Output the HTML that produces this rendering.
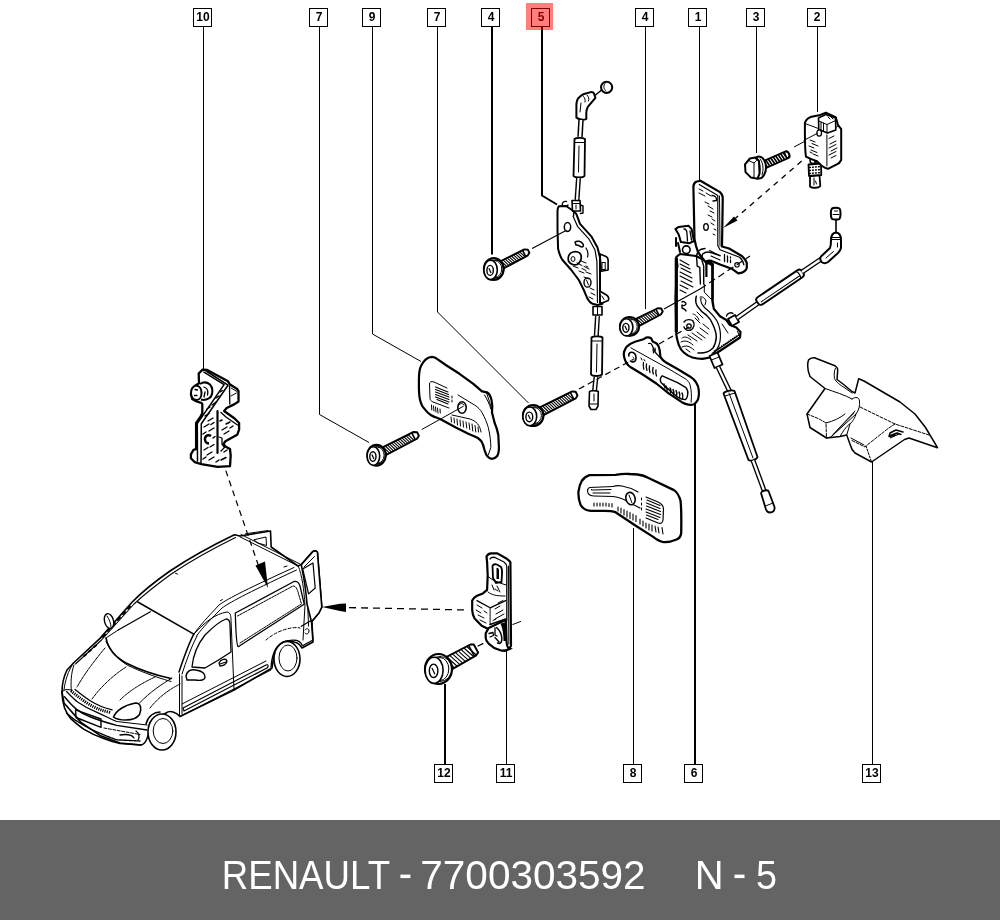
<!DOCTYPE html>
<html><head><meta charset="utf-8">
<style>
html,body{margin:0;padding:0;background:#fff;width:1000px;height:920px;overflow:hidden}
svg{display:block;will-change:transform}
.lb rect{fill:#fff;stroke:#000;stroke-width:1}
.lb text{font-family:"Liberation Sans",sans-serif;font-weight:bold;font-size:12px;fill:#000;text-anchor:middle}
.ld{stroke:#000;stroke-width:1;fill:none}
.ld2{stroke:#000;stroke-width:2;fill:none}
.o{fill:#fff;stroke:#000;stroke-width:2;stroke-linejoin:round;stroke-linecap:round}
.t{fill:none;stroke:#000;stroke-width:1;stroke-linecap:round;stroke-linejoin:round}
.t2{fill:none;stroke:#000;stroke-width:1.5;stroke-linecap:round;stroke-linejoin:round}
.d{fill:none;stroke:#000;stroke-width:1.2;stroke-dasharray:6 4}
.w{fill:#fff;stroke:#000;stroke-width:1}
</style></head>
<body>
<svg width="1000" height="920" viewBox="0 0 1000 920">
<rect x="0" y="0" width="1000" height="920" fill="#fff"/>

<!-- LEADER LINES -->
<g id="leaders">
<path class="ld" d="M203.5,27 V371"/>
<path class="ld" d="M319.5,27 V414.5 L369,442.5"/>
<path class="ld" d="M372.5,27 V334 L421,361.5"/>
<path class="ld" d="M437.5,27 V312 L528.5,403"/>
<path class="ld2" d="M492,27 V254.5"/>
<path class="ld2" d="M542,27 V195.5 L557,204.5"/>
<path class="ld" d="M645.5,27 V309"/>
<path class="ld" d="M699.5,27 V182"/>
<path class="ld" d="M756.5,27 V153"/>
<path class="ld" d="M817.5,27 V112"/>
<path class="ld2" d="M445,684 V764"/>
<path class="ld" d="M506.5,651 V764"/>
<path class="ld" d="M633.5,528 V764"/>
<path class="ld2" d="M695,404 V764"/>
<path class="ld" d="M872.5,462 V764"/>
</g>

<!-- PARTS -->
<g id="car">
<!-- body silhouette fill -->
<path class="o" style="stroke-width:1.6" d="M62,692 C62,684 64,676 67,670 L73.5,663 L100,638.4 L132.2,602 C140,594 150,585 170,571 C185,561 205,549 234.4,534.8 L240,536 L270.5,531 L271.2,547 L298,566 L301.3,564.6 L313,551.4 C315,550.5 316.5,550.8 317.4,552.1 L321.8,607 L318.9,613 L311.5,621.8 L313,642 L302,648 C300,643 294,641 287,641 C279,642 274,650 272,668 L234,690 L180,716.5 C176,712 170,710 166,713 L150,723 C149,736 146,744 141,745 L120,743 L100,735.4 L81,722.4 L64,703 Z"/>
<!-- roof rail double line -->
<path class="t" style="stroke-width:1.1" d="M75.5,664 L101.5,640 L134,604 C142,596.5 152,588 172,573.5 C187,563.5 207,551.5 235.5,537.5"/>
<path class="t" d="M84,656 L86,654.5 M89,651.5 L91,650 M94,647 L96,645.5 M103,637 L105,634.5 M108,631 L110,628.5 M113,625.5 L115,623 M118,620 L120,617.5 M123,614 L125,612 M128,608.5 L130,606.5" style="stroke-width:2"/>
<!-- roof rear edge -->
<path class="t" d="M239.7,536.7 L298.3,566.1"/>
<path class="t" d="M241,534.5 L300,564"/>
<!-- side roof line -->
<path class="t" d="M194,634 C200,625 208,617 219,605 C226,600 240,592 294,567.5"/>
<path class="t" d="M196.5,636 C203,627 211,619 222,608 C229,603 243,595 296.5,570"/>
<path class="t" d="M175.5,573.3 L177.5,574 M220.4,600.6 L222.4,599.6 M284,567 L287,566"/>
<!-- open upper rear flap -->
<path class="t" d="M245.5,533.8 L268,530.5 M254.3,539.7 L266,537 L266.5,545.5 L258,543 Z"/>
<!-- roof front edge / windshield -->
<path class="t" style="stroke-width:1.5" d="M137.8,602 L193.8,634.2"/>
<path class="t" style="stroke-width:1.3" d="M118.2,630 L150.4,611.8"/>
<path class="t" d="M118.2,630 L106,638"/>
<path class="t" style="stroke-width:1.6" d="M106,638 C108,648 115,657 126,663 C138,669 150,674 171,678.5"/>
<path class="t" d="M106,641.5 C110,650 117,659 128,665.5 C140,671 152,676 171,681.5"/>
<!-- right A-pillar -->
<path class="t" style="stroke-width:1.5" d="M193.8,634.2 C188,645 183,660 179,672"/>
<path class="t" d="M197,636 C191,647 186,662 182,674"/>
<!-- mirror left -->
<ellipse class="w" style="stroke-width:1.4" cx="109" cy="621" rx="4.5" ry="7.5" transform="rotate(-15 109 621)"/>
<path class="t" d="M107,616 C109,619 111,623 111,627"/>
<!-- hood -->
<path class="t" d="M74,665 C71,673 70.5,683 71.5,692"/>
<path class="t" d="M73.5,663 C68,671 65,681 64,690"/>
<path class="t" d="M105,648 C95,660 85,673 77,687" stroke-dasharray="3 1"/>
<path class="t" d="M126,667 C112,676 100,688 92,699" stroke-dasharray="3 1"/>
<path class="t" d="M155,677 C140,684 128,692 120,700" stroke-dasharray="3 1"/>
<!-- fender to headlight -->
<path class="t" d="M139.5,703 C150,692 162,684 172,678"/>
<path class="t" d="M150,708 C158,698 168,690 180,684" stroke-dasharray="3 1"/>
<!-- bumper -->
<path class="t" style="stroke-width:1.6" d="M61.9,691.5 C62,697 63,703 64.5,707.8 C66,712 68,715.5 71,718.9 C75,722.5 79,726 84.1,729.4 C90,733 96,736 103.7,738.5 C110,741 115,742.5 120,743.5 L141,745"/>
<path class="t" style="stroke-width:1.4" d="M66.5,713 C70,716 73,719 77.6,721.5 C84,725.5 90,729 97.1,732 C104,735 110,737.5 116.7,739.8 L140,741" stroke-dasharray="1.5 1"/>
<path class="t" style="stroke-width:1.4" d="M64.5,696.7 C68,701 72,705.5 76.3,709.1 C80.5,712.5 85,715 90.6,717 C98,720 106,722.5 116.7,725.4 L147,730"/>
<path class="t" style="stroke-width:1.2" d="M66.5,691.5 C70,695 73.5,699 77.6,702 C84,706.5 90,709.5 97.1,712.4 C104,715.5 110,718.5 116.7,721.5 L147,725"/>
<path d="M71,690.9 C76,695 81,699 87.4,703.3 C94,707.5 101,710.5 110.2,712.4" stroke="#000" style="stroke-width:3;stroke-dasharray:1.2 1" fill="none"/>
<path class="t" style="stroke-width:1.3" d="M75,689.5 C80,693.5 85,697.5 90.6,701 C97,705 104,708 112.1,709.8"/>
<path class="t" d="M62,691.5 L66,689.5 L72,690"/>
<!-- licence plate -->
<path class="t" style="stroke-width:1.4" d="M75.6,709.8 L101,719 L101,727.4 L76,717.5 Z"/>
<!-- fog light / lower details -->
<path class="t" style="stroke-width:1.3" d="M120,735 C126,734 132,735 134,738"/>
<path class="t" d="M104,728 L140,734.5" stroke-dasharray="3 1.5"/>
<path class="t" style="stroke-width:1.3" d="M136,731 C139,733 140,737 138,740"/>
<!-- headlight -->
<path class="w" style="stroke-width:1.6" d="M113.5,717 C116,711 124,705 135.5,703 C141,703 142,709 139.5,714.5 C137,718 133,720 126,720 C120,720 116,719 113.5,717 Z"/>
<!-- front wheel -->
<path class="t" style="stroke-width:1.5" d="M146,724 C148,716 154,712 160,712"/>
<ellipse class="w" style="stroke-width:1.6" cx="162" cy="732" rx="14" ry="18"/>
<ellipse class="t" cx="163" cy="731" rx="9.8" ry="12.5"/>
<!-- front door -->
<path class="t" d="M179.5,674 L179.5,716"/>
<path class="t" d="M182,676 L182,714"/>
<path class="t" d="M194,634 C205,622 215,614 227,612 C230,612 231,615 231,620 L234,690"/>
<path class="t" style="stroke-width:1.3" d="M192,667 C193,656 197,645 205,635 C213,627 220,621 226,619 C229,619 230,621 230,625 L231,652 C222,658 212,664 205,668 Z"/>
<!-- mirror right -->
<path class="w" style="stroke-width:1.4" d="M186,676 C187,671 191,669 196,670 C202,671 205,673 205,677 C205,680 201,681 195,680 L187,680 Z"/>
<path class="t" style="stroke-width:1.3" d="M219,663 C221,659 226,658 227,661 C227,664 223,666 220,666 Z M220,664 L226,662"/>
<!-- side strips -->
<path class="t" d="M182,704 L266,661"/>
<path class="t" style="stroke-width:1.2" d="M183,708 L266,665 C268,664 269,666 267,668 L184,711 Z"/>
<path class="t" d="M180,716.5 L271,670"/>

<!-- sliding window -->
<path class="t" style="stroke-width:1.3" d="M235.3,613 L294,581.5 C298,581 299,583 300,586 L304.2,604.2 L238.2,646.7 C237,646 236,640 235.3,613 Z"/>
<path class="t" d="M237.5,616 L293,586 C296,586 297,589 298,592 L301.5,604 L240,643" stroke-dasharray="2 1"/>
<!-- rear wheel -->
<ellipse class="w" style="stroke-width:1.6" cx="287" cy="659" rx="13" ry="17.5"/>
<ellipse class="t" cx="288" cy="658" rx="9" ry="13"/>
<path class="t" style="stroke-width:1.3" d="M271,667 C272,652 278,643 287,641 C295,639 300,640 302,645"/>
<path class="t" d="M266,640 C275,632 290,626 300,628" stroke-dasharray="3 2"/>
<!-- rear corner -->
<path class="t" d="M298.3,566.1 C302,575 304,590 305,605 L303,640"/>
<path class="t" style="stroke-width:1.3" d="M301.3,626.2 L312,620 L313,640 L302,646"/>
<path class="t" d="M307.1,592.5 L308.6,626.2"/>
<path class="t" d="M305,630 C306,628 309,628 309,631 C309,634 306,635 305,633"/>
<!-- open rear door -->
<path class="o" style="stroke-width:1.6" d="M301.3,564.6 L313,551.4 C315,550.5 316.5,550.8 317.4,552.1 L321.8,607.1 L318.9,613 L311.5,621.8 L307,604 C306,590 304,578 301.3,564.6 Z"/>
<path class="t" style="stroke-width:1.2" d="M302.7,569 L313,563.1 L315.2,588 L308.6,593.9 Z"/>
<path class="t" d="M304,567 L314.5,556.5"/>
</g>

<g id="p10">
<path class="o" style="stroke-width:2.3" d="M202.6,369.6 L207.2,369.9 L228,381.3 L230,384.6 L237.2,389.1 L238.5,391.1 L238.5,401.5 L234.6,404.1 L226.7,408 L224.1,411 L234.6,418.5 L239.1,423 L239.1,429.6 L237.2,434.8 L225.4,441.3 L223.5,443.9 L225.4,446.5 L230,449.1 L230.7,455.7 L230,466.1 L217.6,466.8 L201.3,464.1 L194.8,462.2 L190.9,458.3 L190.9,454.4 L193.5,449.8 L196.1,449.1 L196.1,423 L200.7,416.5 L202.3,413 L202.3,404.1 L201.3,402.8 L196.7,401.5 L192.2,398.9 L190.9,393.7 L194.8,385.9 L199,383.3 L198.7,373.5 Z"/>
<!-- fold band -->
<path class="t" style="stroke-width:1.5" d="M203.9,372.2 L224.1,384.6 L197.3,423.7 L197.5,461"/>
<path class="t" style="stroke-width:1.5" d="M206,371 L228,385.2 L201.3,423.7 L201,463"/>
<path class="t" style="stroke-width:1.3" d="M229.5,386 L229.8,404"/>
<path class="t" d="M231,388 L237,391.5 M231,396 L236.5,393"/>
<!-- divider -->
<path class="t" style="stroke-width:2.2" d="M217.5,411 L217.5,453"/>
<path class="t" style="stroke-width:1.3" d="M221,412.5 L226,417 L237.5,425"/>
<path class="t" style="stroke-width:1.3" d="M219,437 L222,438 L222,444 L224.5,447.5 L221,451"/>
<!-- knob -->
<path class="w" style="stroke-width:2" d="M200,384 C203,382 207,382 210,384.5 C213,387.5 213,393 211,396.5 C208.5,399.5 204,400.5 201,399.5"/>
<path class="w" style="stroke-width:2" d="M196,385.5 C192.5,386.5 191,389.5 191,393 C191,397 193,399.5 196.5,400 C199.5,400 201.5,397 201.5,393 C201.5,389 199.5,385.5 196,385.5 Z"/>
<path class="t" style="stroke-width:1.3" d="M195,389.5 L197.5,390 M194.5,395.5 L197,395.5 M204,387 C207,388 208.5,391 207.5,395 M205,392 L204,397"/>
<!-- hole -->
<path d="M211,436 C209,434.5 206,435 205,438 C204.5,441 206,443.5 209,443.5" fill="none" stroke="#000" style="stroke-width:2.5"/>
<!-- hatching -->
<path class="t" style="stroke-width:1.4" d="M205,416 L209,413.5 M208,421 L213,418 M204,427 L209,424 M209,431 L214,428 M203,434 L206,432 M210,447 L214,444.5 M204,450 L208,447.5 M207,455 L212,452 M203,459 L206,457 M209,460 L214,457 M213,438 L215,436.5 M211,424.5 L214,422.5 M212,405 L216,402 M216,398 L219,396 M220,392 L222.5,390.5 M222,430 L227,427 M224,434 L229,431 M226,424 L230,422 M221,460 L226,457.5 M216,462 L219,460 M224,452 L227,450 M220,421 L222,420 M230,428 L233,426 M207,409 L210,407"/>
</g>

<g id="p9">
<path class="o" style="stroke-width:2.2" d="M432,356.9 C428,357 424,360 421,366 C419,370 418.9,375 418.9,380 L418.9,387.5 C419,393 419.5,398 420.1,400 C421,404 422.5,407 424.5,408.8 C426.5,411.5 428.5,413.5 430.8,415 C433,416.5 435,417.3 437,417.8 L442,420 L455.8,427.5 L468.3,433.8 L477,437.5 C480,439.5 481.5,441 482,442.5 C483.5,445 484,448 484.5,450 C485.5,453 486,455 487.5,456.5 C489,458 490.5,458.8 492,458.8 C494,458.8 496,457.5 497,456.3 C498.5,454 499,451 498.9,447 L498.3,435 C497.5,430 496,426 494.5,422.5 L492,412.5 C492.5,408 492.5,404 491.5,400 C490.5,396 489,393.5 487,392.3 L482,391.3 L473.3,383.8 L459.5,373.8 L445.8,365 L437,358.8 C435.5,357.5 434,357 432,356.9 Z"/>
<path class="t" d="M482,391.3 C484,391 486,392 487,394 L492,410"/>
<path class="t" d="M484.5,395 C487,399 489.5,404 490.8,409"/>
<path class="t" d="M458,395 L474.5,405 C478,407 480.5,410 482,412.5 C485,418 487,423 488.3,427.5 C490,435 491,442 490.8,447.5 L488.3,455"/>
<!-- upper hatch panel -->
<path class="t" d="M447,388 L434,382 C431,381 429.5,382 429.5,384 L430,398 C430,400 431,401 433,402 L449,408"/>
<path class="t" style="stroke-width:1.1" d="M435.5,387 L448,392 M435.5,389.5 L448.5,394.5 M435.5,392 L449,397 M435.5,394.5 L449,399.5 M435.5,397 L449,402 M437,399.5 L448,404"/>
<path class="t" d="M431.5,405 L431.8,410 M433.5,406 L434,411 M435.5,407 L436,412 M437.5,408 L438,413 M440,409 L440.3,413"/>
<path class="t" d="M452,396 L452,398 M452,400 L452,402"/>
<!-- hole -->
<ellipse cx="462" cy="407.5" rx="4.2" ry="5.8" fill="#fff" stroke="#000" style="stroke-width:1.6"/>
<path class="t" d="M459,405 C460,403 463,403 464,405"/>
<!-- lower hatch -->
<path class="t" d="M451,417 L451.5,422 M454,418 L454.5,423 M457,419 L457.5,425 M460,420 L460.5,426 M463,421 L463.5,427 M466,422 L466.8,428 M469,423 L469.8,429.5 M472,424 L472.8,431 M475,425.5 L475.8,432 M478,427 L478.5,432"/>
<path class="t" d="M452,415 L470,419 C476,421 480,425 481,432"/>
<!-- axis line -->
<path class="t" d="M422,429.4 L463.3,406.3"/>
</g>

<g id="p5">
<!-- upper cable -->
<circle cx="606.6" cy="87.3" r="5.6" fill="#fff" stroke="#000" style="stroke-width:2"/>
<path class="t" d="M605,83.5 C603,85.5 603.5,89 606,91"/>
<path class="t" style="stroke-width:1.5" d="M601,90.5 L595.5,95"/>
<path class="o" style="stroke-width:2" d="M576.4,117.6 L576.4,105.4 C576.5,101.5 577.5,99 578.7,97.8 C580.5,95.5 582,94.7 584,94 L590.9,92.1 C592.5,92 593.5,92.5 593.9,93.3 L595.4,97.8 L587.8,106.9 C586.8,109 586.3,111 586.3,113 L586.3,119.1 C583,120 579.5,120 576.4,117.6 Z"/>
<path class="t" d="M587,95 C588.5,96.5 589.5,99 588.5,101 M583.5,96.5 C585,98 585.5,100 585,102"/>
<path class="t" d="M581,103 L580,112"/>
<path d="M581,120 L580,137" fill="none" stroke="#000" style="stroke-width:5.5"/>
<path d="M581,120 L580,137" fill="none" stroke="#fff" style="stroke-width:2.5"/>
<path class="o" style="stroke-width:1.8" d="M574.5,139 C576,137.5 583,137.5 585,139 L584.5,176 C583,178 575,178 573.5,176 Z"/>
<path class="t" d="M575,142.5 L584.5,142.5 M579,146 L578.5,172"/>
<path d="M578.5,178 L577,200" fill="none" stroke="#000" style="stroke-width:5"/>
<path d="M578.5,178 L577,200" fill="none" stroke="#fff" style="stroke-width:2.2"/>
<!-- bracket -->
<path class="o" style="stroke-width:2" d="M558.8,206.3 C557.8,207.5 557.5,209 557.5,211 L557.5,230 L558.1,248.8 C559,253 560.5,257 562.5,260 L571.3,270 L578.8,280 L583.8,290 L587.5,298.8 C589,301.5 590.5,303 592.5,303.8 L597.5,305 L602.5,303.8 L600,302.5 L600,257.5 L597.5,247.5 L591.3,236.3 L580,223.8 L576.3,213.8 L572,210 L566,206 Z"/>
<path class="t" style="stroke-width:1.2" d="M573.1,216.3 L577.5,226.3 L588.8,238.8 L595,250 L596.9,261.3 L597.5,302.5"/>
<!-- tabs -->
<path class="o" style="stroke-width:1.6" d="M600,254 L606,256.5 C608,257.5 608.3,260 608.1,262 L608.1,270 L601.3,271.3 Z"/>
<rect x="602" y="262.5" width="3.2" height="7" fill="#fff" stroke="#000" style="stroke-width:1"/>
<path class="o" style="stroke-width:1.6" d="M600.5,291.5 L606.5,295 C608.5,296.5 609,299 608.3,300.5 L602,303"/>
<path class="t" d="M602,296 L604,299.5"/>
<!-- top fitting on bracket -->
<path class="o" style="stroke-width:1.6" d="M572,200.5 L580,200.5 L580.5,211 L572.5,211 Z"/>
<path class="t" d="M573,203.5 L580,203.5 M576,205 L576,209"/>
<path class="t" style="stroke-width:1.4" d="M580.5,205 L583,206 L583,213 L580.5,213.5"/>
<path class="t" style="stroke-width:1.4" d="M566.5,201.5 C563.5,201 561.5,203 562.5,205.5 C564,207 567,206.5 568,205"/>
<path class="t" style="stroke-width:1.4" d="M574,211 L573.5,216"/>
<!-- holes -->
<ellipse cx="567.5" cy="227" rx="3.2" ry="4.4" fill="#fff" stroke="#000" style="stroke-width:1.5"/>
<path class="t" d="M567,231.5 C569,232 571,230 570.5,228"/>
<ellipse cx="575" cy="257.5" rx="3" ry="3.5" fill="none" stroke="#000" style="stroke-width:1.2"/>
<path class="o" style="stroke-width:1.7" d="M573,252 C576,251 580,252 581,255 C582,259 580,263 577,264.5 C574,265.5 570,264 568.5,261 C567.5,257 569,253 573,252 Z"/>
<ellipse cx="573" cy="259" rx="2" ry="2.4" fill="none" stroke="#000" style="stroke-width:1"/>
<path class="t" style="stroke-width:1.5" d="M575,242 C577,240.5 581,241 583,244 C584,246 583,247 581.5,247 C580,246 578,244.5 576,245 Z"/>
<path class="t" style="stroke-width:1.2" d="M586,248 C588,251 588.5,254 587.5,257"/>
<ellipse cx="587.5" cy="282.5" rx="3.5" ry="4.6" fill="#fff" stroke="#000" style="stroke-width:1.4"/>
<path class="t" d="M586.5,280 L588.5,285"/>
<!-- hatching -->
<path class="t" d="M573,266 L578,268 M577,263 L582,265.5 M581,261 L586,263 M584,266.5 L589,269 M579,271 L584,273 M586,272 L591,274 M584,277 L589,279 M590,288 L594,290 M591,293 L595,295 M589,297 L593,299 M586,266 L588,267 M582,268.5 L586,270.5"/>
<!-- lower cable -->
<path class="o" style="stroke-width:1.6" d="M593,306.5 L602,306.5 L602,315 L593,315 Z"/>
<path class="t" d="M597.5,307 L597.5,315"/>
<path d="M597.5,316 L596.3,336" fill="none" stroke="#000" style="stroke-width:5"/>
<path d="M597.5,316 L596.3,336" fill="none" stroke="#fff" style="stroke-width:2.2"/>
<path class="o" style="stroke-width:1.8" d="M591.5,337.5 C593,336 601,336 602.5,337.5 L602,374.5 C600,376.5 592.5,376.5 591,374.5 Z"/>
<path class="t" d="M592,341 L602,341 M597,344 L596.5,372"/>
<path d="M596,377 L594.5,391" fill="none" stroke="#000" style="stroke-width:5"/>
<path d="M596,377 L594.5,391" fill="none" stroke="#fff" style="stroke-width:2.2"/>
<path class="o" style="stroke-width:1.6" d="M589.5,391.5 C590,390.5 597.5,390.5 598.3,391.5 L598,406 L596,409.5 L591,409.5 L589,406 Z"/>
<path class="t" d="M590,404 L597.5,404 M594,394 L594,401"/>
</g>

<g id="p1">
<!-- lower body -->
<path class="o" style="stroke-width:2.2" d="M680,254 L676.3,257 L677.5,266.3 L676.3,270 L676.3,281.3 L675.6,297.5 L676.3,331.3 L676.3,335 C677,339 677.8,342 678.8,345 C680,348.5 681.5,350.5 683.8,352.5 C686.5,355 689.5,356.5 692.5,357.5 C696,358.5 699,358.8 702.5,358.8 L710,357.5 L740,337.5 L740.5,332 L736.3,327.5 L730,325 L726.3,320 L720,316.3 L713.8,308.8 L712.5,300 L712.5,266 L708,262 L696,256 Z"/>
<path d="M676.3,258 L676.3,332" stroke="#000" style="stroke-width:3.2" fill="none"/>
<!-- upper plate -->
<path class="o" style="stroke-width:2.2" d="M696.1,181.8 C694,183 693.4,185 693.4,187 L694.5,239 L696,246 C697,250 698,252.5 700,255 L705.7,262.2 C707,260.5 709,260.2 711.5,260.9 L720.7,264.8 L731.7,268.7 L738.3,273.3 L742.2,272.6 C745,271 746.8,269.5 746.8,267.4 L746.8,262.8 C745.5,259.5 744,257.8 742.2,256.3 L729.1,248.5 L722,246.5 L722.7,201.9 L722.7,197 C722,194.5 721,193 720,192.1 L700.4,180.7 Z"/>
<path class="t" style="stroke-width:1.2" d="M699.3,184.5 L717.8,195.4 L717.8,245.4 L720,249.7 L739.6,257.3 C742,259.5 743.5,262 743.9,265"/>
<path class="t" d="M719.5,196 L720,246"/>
<ellipse cx="706" cy="227" rx="2.3" ry="3.3" fill="none" stroke="#000" style="stroke-width:1.3"/>
<path class="t" style="stroke-width:1.4" d="M712,195.5 C715,195.5 717,197.5 716.5,200.5 L713,201"/>
<path class="t" d="M699,189 L703,191 M699,193 L705,196 M706,193 L711,196 M705,202 L709,204 M708,206 L713,209 M710,211 L714,213 M708,215 L712,217 M712,219 L715,221 M711,223 L714,225 M714,229 L716,230 M713,234 L715,235"/>
<!-- J slot -->
<path class="t" style="stroke-width:1.4" d="M705,248.5 C702,248.8 700,249.5 699.1,250.4 C697.5,252 696.8,254 696.5,256.3 L697.2,266.1 L699.8,267.4 L700.4,284 M703.7,284 L703.7,266.1 C702.5,262 701.5,259.5 701.7,258.3 C702,255.5 702.5,254.5 703,253.7 C705,252 708,251.5 711,252.5 L720,255.7"/>
<rect x="705.3" y="262" width="2.2" height="15" fill="#000"/>
<rect x="711.3" y="263.5" width="2.4" height="36.5" fill="#000"/>
<path d="M705.3,262 C707,260.5 710,260.8 713.7,263.5 L713.7,266.5 C710,264.5 707.5,264 705.3,265 Z" fill="#000"/>
<path class="t" style="stroke-width:1.1" d="M709.6,250.4 L720,255.7 M711,256 L720,260"/>
<path class="t" style="stroke-width:1.3" d="M724.5,254.5 L724.5,261.5 M727.5,256 L727.5,262 M730.5,257 L730.5,258 M730.5,260 L730.5,262.5"/>
<circle cx="737" cy="264.8" r="2.2" fill="none" stroke="#000" style="stroke-width:1.2"/>
<path class="t" d="M704.3,284.4 L704.3,292.2 L711,299"/>
<!-- left clip -->
<path class="o" style="stroke-width:2" d="M675.4,229.1 L678.7,226.9 L688.5,225.8 L691.7,229.1 L693.9,241 L689.6,243.2 L680.9,242.1 L678.7,234.5 Z"/>
<path class="t" style="stroke-width:1.3" d="M684,229 C686,229 687,231 687,234 L687.5,241 M690,231 L691.5,240"/>
<path class="t" style="stroke-width:2" d="M676,238 L676,246 M678,243 L680,252"/>
<circle cx="686.3" cy="249.7" r="3.8" fill="#fff" stroke="#000" style="stroke-width:1.6"/>
<!-- lower hatching -->
<path class="t" style="stroke-width:1.1" d="M680,260 L689,265 M680,264 L690,269 M681,268 L691,273 M680,272 L692,278 M680,276 L692,282 M681,281 L693,287 M680,285 L688,289 M680,290 L686,293"/>
<!-- curved channel -->
<path class="t" style="stroke-width:1.5" d="M696.3,296.3 C695,301 696,304 697.5,306.3 C700,310 703,313 706.3,315 C709.5,318 711.5,321 712.5,323.8 C715,329 716.3,333 716.3,337 C716,342 715,345 713,348 C709,352 704,353.5 698,353"/>
<path class="t" style="stroke-width:1.2" d="M701,298 C700,302 702,305 705,308 C710,312 714,316 717,321 C719.5,326 720.5,331 720.5,336 C720.5,343 718,349 714,353"/>
<path class="t" d="M700,297 C702,296 705,298 706,301 L705,305 M712,300 L712.5,306"/>
<path class="t" style="stroke-width:1.4" d="M682,302 C683,301 686,302 686,304 C685,306 683,306 682,305 L682,308 C684,309 686,310 686,311"/>
<!-- boss -->
<path class="t" style="stroke-width:1.4" d="M684,322 C686,319 691,319 693,321 C695,324 694,328 691,330 C688,331 685,330 684,327"/>
<circle cx="689" cy="326" r="2.2" fill="none" stroke="#000" style="stroke-width:1.3"/>
<path class="t" d="M693,314 C695,314 698,317 699,320 M695,318 L700,323 M697,312 L703,318"/>
<path class="t" d="M682,338 C684,336 688,337 691,340 M681,342 C684,340 689,341 693,345 M682,347 C686,345 690,346 694,350 M688,335 L697,341 M692,333 L702,340 M697,332 L705,338 M700,328 L708,334 M703,324 L709,329 M686,349 L690,352"/>
<!-- bottom strip -->
<path class="t" style="stroke-width:1.2" d="M712,353.5 L739,335"/>
<path d="M714,351.5 L737,336" stroke="#000" style="stroke-width:1.8;stroke-dasharray:1.2 1" fill="none"/>
<path class="t" d="M737.5,331.3 L740,337.5"/>
<path class="t" d="M722,324 L728,333"/>
</g>

<g id="p6">
<path class="o" style="stroke-width:2.2" d="M624.4,358 C623.6,355.5 623.6,354 624,352 C624.8,349.8 625.5,348.2 626.5,346.9 C629,344.5 632,342.8 635,341.8 L643.5,339.3 L646,337.6 C648,337 650,337.5 651.2,338.4 L652.9,341.8 L655.4,342.7 C656.8,343.5 657.5,344.3 658,345.2 C659,347 659.5,348.6 659.7,350.3 L660.5,357.1 C662,359.5 663.5,361 665.6,362.2 L677.5,369 L690.3,376.7 C693,378.5 695,380.5 696.2,382.6 C697.8,385 698.5,387.5 698.8,390.3 C699.2,393.5 698.8,397 698,399.6 C697,401.5 696,402.8 694.5,403.9 C692.5,404.8 690.5,405 688.6,404.7 C686,404.3 684,403.4 681.8,402.2 L669,393.7 L656.3,383.5 L643.5,375 L630.8,367.3 C628.8,366 627.5,364.6 626.5,363.1 C625.5,361.5 624.9,359.8 624.4,358 Z"/>
<path class="t" d="M630.8,347.8 L669,369 L686,379.2 C688.5,381.5 690,383.5 690.3,386 C691.5,391 691.7,396 691.1,402.2"/>
<path class="t" style="stroke-width:1.3" d="M648.6,343.5 C650,343 651.5,343.5 652,345 L655,352 L659.7,357.1"/>
<path class="t" style="stroke-width:1.2" d="M653,349 L653.5,353 M655,348 L655.3,351"/>
<!-- hole -->
<path class="t" style="stroke-width:1.6" d="M628.8,356 C628.5,353.5 630,352 632,352.3 C634.5,352.8 636,355 636,358 C636,360.5 634.5,362 632.5,362 L630.5,361"/>
<path class="t" d="M633,357 C634,357.5 634.5,359 633.5,360"/>
<!-- slot -->
<path class="t" style="stroke-width:1.4" d="M662.2,375.8 L677.5,382.6 L686,387.7 C687.5,389.5 688.2,392 687.7,394.5 C687.3,397.5 686.5,399 685.2,399.6 C682.5,399.5 680,398.5 677.5,397.1 L665.6,386.9 L661,382.5 C660,380.5 660.5,377.5 662.2,375.8 Z"/>
<path class="t" style="stroke-width:1.4" d="M664,384 L665,388 M666,386 L667.3,390 M670,388 C671,389 671,391 670.5,393 M673,389.5 C674,391 674,393 673.5,395 M676,390.5 C677,392 677,394 676.5,396 M679,392 C680,393.5 680,395.5 679.5,397.5 M682,393 C683,394.5 683,396.5 682.5,398.5"/>
<path class="t" style="stroke-width:1.3" d="M643.5,362.5 C643,364.5 643.3,367 643.8,369 M646.5,364 C646,366 646.3,368.5 647,370.5 M649.5,366 C649,368 649.3,370.5 650,372.5 M653,367.5 C652.5,369.5 652.7,372 653.3,374 M656,370 C655.5,372 656,374.5 656.5,376"/>
<path class="t" d="M641,358 L642,360 M644,359.5 L645,361"/>
</g>

<g id="p8">
<path class="o" style="stroke-width:2.3" d="M589.5,475.2 L615.5,474.8 C620,474 625,473.5 630,474 L637.6,474.5 C641,475 645,476 648,477.8 L674,490.1 C677,492 679,495.5 680.5,500.5 C681.2,506 681.5,515 681.2,533 C680.8,536.5 679,538.5 676.6,539.5 C672,541.5 668,542.3 663.6,542.1 C660,541.5 656.5,539.5 653.2,536.9 L635,525.2 L615.5,512.2 C612,511 608,510.8 603,510.9 L590.8,510.9 C586,510.5 582.5,508.5 580.4,504.4 C578.7,500 578.2,495.5 578.5,491.4 C579,487.5 580,484 581.7,481 C583.8,478 586.5,476 589.5,475.2 Z"/>
<!-- raised inner area -->
<path class="t" style="stroke-width:1.2" d="M613,486.5 L590,487.5 C587.5,488 587,490.5 588,493 C589,495 591,496 594,496 L613,496.5 C620,497 626,500 632,504 L640,508"/>
<path class="t" style="stroke-width:1.2" d="M613,486.5 C616,485.5 619,485.5 622,486 C628,487 633,489 638,492"/>
<path class="t" style="stroke-width:1.1" d="M593,490 L611,489.5 M593,493 L610,493 M591.5,489.5 L592,490"/>
<!-- hole -->
<ellipse cx="630.5" cy="498.6" rx="4.6" ry="6.3" transform="rotate(-15 630.5 498.6)" fill="#fff" stroke="#000" style="stroke-width:1.6"/>
<path class="t" d="M629,495 L632,503"/>
<!-- right hatch panel -->
<path class="t" style="stroke-width:1.2" d="M646,497 L658,502 C662,504 663.5,506 663.5,509 L663,520 C662.5,523 661,524 658,523 L646,518"/>
<path class="t" style="stroke-width:1.1" d="M647,500 L660,505.5 M646.5,503 L660,508.5 M646.5,506 L660.5,511.5 M646,509 L660.5,514.5 M646,512 L660,517.5 M646.5,515 L658,519.5"/>
<path class="t" d="M641.5,498 L641.5,500 M641.5,503 L641.5,505 M641.5,508 L641.5,510"/>
<!-- lower hatch -->
<path class="t" style="stroke-width:1.1" d="M594,503 L594,506 M597,503 L597,506 M600,503 L600,506 M603,503 L603,506 M606,503 L606,506 M609,503.5 L609,506.5 M612,503.5 L612,507 M618,507 L618,511 M621,508 L621,513 M624,509.5 L624,515 M627,511 L627,517 M630,512.5 L630,518.5 M633,514 L633,520 M636,515.5 L636,521.5 M640,519 L640,524 M643,521 L643,526 M646,523 L646,528 M649,524 L649,530 M652,525 L652,531 M655,526 L656,532 M658,527 L659,533 M662,527.5 L663,534"/>
</g>

<g id="rod">
<!-- top fitting -->
<path class="o" style="stroke-width:1.8" d="M709.5,356 L717.5,352.5 L722.5,364.5 L714.5,368 Z"/>
<path class="t" d="M711.5,360 L719,357"/>
<!-- thin rod -->
<path d="M718,367 L730,392" fill="none" stroke="#000" style="stroke-width:5"/>
<path d="M718,367 L730,392" fill="none" stroke="#fff" style="stroke-width:2.2"/>
<!-- sleeve -->
<path class="o" style="stroke-width:1.8" d="M723.5,393.5 C724.5,391.5 732,389.5 734.5,391 L757.5,457 C757,459.5 750.5,461.5 748.5,460 Z"/>
<path class="t" d="M729,393 L753,458"/>
<path class="t" d="M725,396 L735,393"/>
<!-- lower rod -->
<path d="M753,460.5 L765,493" fill="none" stroke="#000" style="stroke-width:5"/>
<path d="M753,460.5 L765,493" fill="none" stroke="#fff" style="stroke-width:2.2"/>
<!-- end fitting -->
<path class="o" style="stroke-width:1.8" d="M761,493 C762,490.5 767,489.5 768.5,491 L774.5,507 C775,510.5 773,512.5 770,512.5 C767.5,512.5 766.5,511 766,509.5 Z"/>
<path class="t" d="M765.5,506 L773,503"/>
</g>
<g id="rcable">
<!-- end fitting near p1 -->
<path class="o" style="stroke-width:1.8" d="M728,319 L735,315 L739,322 L732,326 Z"/>
<path class="t" style="stroke-width:1.4" d="M726.5,316 C727,313 731,312 733,313.5"/>
<!-- thin cable -->
<path d="M737,318 L759,302.5" fill="none" stroke="#000" style="stroke-width:5"/>
<path d="M737,318 L759,302.5" fill="none" stroke="#fff" style="stroke-width:2.2"/>
<!-- sleeve -->
<g transform="translate(757.5,302.5) rotate(-34.13)">
<rect x="0" y="-4.3" width="54.4" height="8.6" rx="3" fill="#fff" stroke="#000" style="stroke-width:1.9"/>
<path d="M3,1.5 L50.4,1.5" stroke="#000" style="stroke-width:1" fill="none"/>
<path d="M49.4,-4 C50.9,-2 50.9,2 49.4,4" stroke="#000" style="stroke-width:1.1" fill="none"/>
</g>
<!-- thin cable up -->
<path d="M802,272 L822,258.5" fill="none" stroke="#000" style="stroke-width:5"/>
<path d="M802,272 L822,258.5" fill="none" stroke="#fff" style="stroke-width:2.2"/>
<!-- bent fitting -->
<path class="o" style="stroke-width:2" d="M831,240 C831,236 832,233 836,232.5 C840,233 841,236 841,240 L841,248 C840.5,250 839.5,251.5 838,253 L828,262 C826,263.5 823.5,263.5 821.5,262 C820,260 820,258 821,256.5 L830,248 C830.8,246 831,244 831,240 Z"/>
<path class="t" d="M831.5,237.5 L840.5,237.5 M831.5,239.5 L840.5,239.5"/>
<path class="t" d="M837.5,243 L837.5,247 M826,258 L833.5,251.5"/>
<path d="M836,232 L836,220" stroke="#000" style="stroke-width:1.6" fill="none"/>
<path class="o" style="stroke-width:2" d="M832,208.5 C833,207.5 838,207.5 839.5,208.5 C840.8,210 841,217 839.5,218.8 C838,219.8 833,219.8 831.8,218.8 C830.5,217 830.5,210 832,208.5 Z"/>
<path class="t" d="M833,214.5 L839,214.5 M834.5,211 L837.5,211"/>
</g>

<g id="p3">
<!-- shaft -->
<g transform="translate(757,168) rotate(-24)">
<path d="M6,-4.5 L33,-4.5 C35,-4.5 36,-3 36,0 C36,3 35,4.5 33,4.5 L6,4.5 Z" fill="#000"/>
<path d="M10,-2.8 L11,2.8 M12.7,-2.8 L13.7,2.8 M15.4,-2.8 L16.4,2.8 M18.1,-2.8 L19.1,2.8 M20.8,-2.8 L21.8,2.8 M23.5,-2.8 L24.5,2.8 M26.2,-2.8 L27.2,2.8 M28.9,-2.8 L29.9,2.8" stroke="#fff" style="stroke-width:1"/>
<path d="M32,-2.5 C33.5,-2.5 34,-1 34,0 C34,1 33.5,2.5 32,2.5 Z" fill="#fff"/>
</g>
<!-- washer -->
<ellipse cx="759" cy="167.5" rx="7" ry="11" fill="#fff" stroke="#000" style="stroke-width:2"/>
<path class="t" d="M760,159 C763,162 764,169 762,175 M757,158 C760,161 761,168 759.5,175"/>
<!-- hex head -->
<path class="o" style="stroke-width:2" d="M745,164.4 L749.9,158.5 L755,157.5 L759,161 L759.5,173.5 L757.6,178.7 L751,177.6 L745.5,172.1 Z"/>
<path class="t" d="M748.5,160.5 L754,163 L756.5,160.5 M754,163 L754,177.5"/>
<!-- axis line -->
<path class="t" d="M794.5,146.8 L821.4,132.5"/>
</g>
<g id="p2">
<!-- plug below -->
<path class="o" style="stroke-width:1.8" d="M810,176 L819.5,175 L820.3,186 C819,188 812,188.5 810,186.5 Z"/>
<path class="t" d="M814,178 L814,185 M815.5,181 L816.5,184"/>
<path class="o" style="stroke-width:1.8" d="M808.5,164.5 L821,163.5 L821.3,175 L809,176 Z"/>
<path d="M809,167.5 L821,166.5 M809,170.5 L821,169.5 M809,173.5 L821,172.5" stroke="#000" style="stroke-width:1.4;stroke-dasharray:2 1" fill="none"/>
<circle cx="813" cy="160.5" r="3" fill="#fff" stroke="#000" style="stroke-width:1.5"/>
<circle cx="817" cy="159" r="3" fill="#fff" stroke="#000" style="stroke-width:1.5"/>
<!-- body -->
<path class="o" style="stroke-width:2" d="M804.9,122.6 C806,120 808,118 810.4,117.1 L820.3,114.9 L825.8,112.7 L835.7,117.1 L837.9,124.8 L841.2,129.2 L841.2,160 C840,162.5 838.5,163.8 836.8,164.4 L828,168.8 C825.5,168.5 823.5,167 821.4,165.5 L817,161.1 C813,160 809,158.5 806,156.7 C805,152 804.8,145 804.9,122.6 Z"/>
<path class="t" d="M805,123.5 C809,125 813,126.5 817,128 L826.5,132"/>
<path class="t" d="M826.9,135 L826.9,166"/>
<path class="t" d="M827,133 L838,126"/>
<!-- connector top -->
<path class="o" style="stroke-width:1.6" d="M818.5,118 L825.8,114.5 L835.5,118 L835.8,130 L827.5,133 L818.8,129.5 Z"/>
<path class="t" d="M818.7,121 L827,124.5 L835.6,120.5 M827,124.5 L827,132.5 M821,122 L821,130 M823.5,123.2 L823.5,131"/>
<path class="t" d="M828,117 L830,119 M831,117 L833,119"/>
<!-- hole -->
<ellipse cx="819.2" cy="133" rx="2.3" ry="3.2" fill="#fff" stroke="#000" style="stroke-width:1.3"/>
<path class="t" d="M804,140.3 L817,133.5"/>
<!-- hatching -->
<path class="t" d="M810,140 L815,142 M812,143.5 L818,146 M809,146 L814,148 M811,150 L817,152.5 M813,154 L818,156 M810,152 L812,153 M830,144 L836,141 M829,148 L836,144.5 M831,151 L837,148 M829,155 L836,151.5 M831,158 L836,155.5 M829,138.5 L834,136"/>
</g>
<!-- dashed line from p2 to p1 arrow -->
<path d="M801.6,161.1 L730,223" fill="none" stroke="#000" style="stroke-width:1.3;stroke-dasharray:5.5 5"/>
<path d="M723,228 L734,216.5 L737.5,220.5 Z" fill="#000"/>

<g id="p13">
<path class="o" style="stroke-width:1.5" d="M808.5,360 C810,358 812,357.5 814.5,357.7 L835.5,366 C837,367 837.8,368.5 837.7,370.5 L837,379.5 L843,384 L852,391.5 L855,393 L858.7,378.7 L864,381 L900,402 L915,414 L925.5,427.5 L937.5,447.7 L909,438 L904.5,439.5 L871.5,462 L855,453 C852.5,450.5 851,448 850.5,445.5 L846.7,435 L840,436.5 L826.5,438 L810,427.5 L807,414 L825,388.5 L810,376.5 C808.5,373 807.7,370 807.7,366 C807.7,363.5 808,361.5 808.5,360 Z"/>
<!-- handle inner -->
<path class="t" d="M835.5,368 C834,371 834,375 834.5,378.5 C836,382 840,385 845,388 L852,393"/>
<path class="t" d="M825,388.5 C835,392 845,395 852,399"/>
<!-- front flap -->
<path class="t" d="M852,399 C856,396.5 859,397 859.5,401 C860,406 859,410 856,414 L832,436 C830,437.5 828,437.8 826.5,438"/>
<path class="t" d="M856,414 C855,418 853,421 850,424 L846.7,435"/>
<path class="t" d="M849.5,424 C846,427 843,431 840,436.5" />
<path class="t" style="stroke-width:0.9" d="M855,411 L833,434.5 M854,413 L832.5,435.5"/>
<!-- left block lines -->
<path class="t" d="M807,414 L817,418 C820,419.5 822,420.5 826,423 L826.5,438" stroke-dasharray="3 1.5"/>
<path class="t" d="M826,423 C834,421 840,418 845,414"/>
<!-- right block -->
<path class="t" d="M860,407 L895,424 L929,435" stroke-dasharray="3 1.5"/>
<path class="t" d="M895,424 C888,428 880,435 866,446 L865,447 L851,440" stroke-dasharray="3 1.5"/>
<path class="t" d="M866,446 L871.5,462" stroke-dasharray="2 1.5"/>
<path class="t" d="M851,438 L864,445"/>
<!-- logo -->
<path class="t" style="stroke-width:1.4" d="M890,433 L896,430 L903,432 M889,436 L897,433 L901,434.5 M890,433 L889,436.5 L895,435"/>
<path d="M890,438 L899,434" stroke="#000" style="stroke-width:1.2"/>
</g>

<g id="p11">
<path class="o" style="stroke-width:2.2" d="M486.5,556.4 C487.5,554.5 489,553.6 491.3,553.4 L497.3,553.4 L506.8,558.8 C508.5,560 509.8,561 510.4,562.3 L511,646 C509,648.5 507,650.3 504.4,650.8 L498.5,648.4 L490.1,643.6 C488,642 487,640.5 486.5,638.8 L486.5,632.9 L488.9,629.3 L481.7,625.7 L474.6,618.5 C473,615.5 472.3,613 472.2,610.1 L472.2,600.6 C473.5,598 475,596.8 477,595.8 L482.9,593.4 L487.1,589.8 L487.7,575.5 L487.1,562.3 Z"/>
<!-- plate inner flange -->
<path class="t" style="stroke-width:1.3" d="M490,559 C491,557.5 493,557 495,557.5 L504,562 C506,563.5 506.8,565 506.8,567 L506.8,620"/>
<path class="t" d="M508.5,566 L508.8,644"/>
<!-- top slot -->
<path d="M492.5,566 C493,564.5 495,564 497,564.5 L501,567 C502,568.5 502.2,571 502,574 L501.5,582 L496,583 L493,578 Z" fill="#fff" stroke="#000" style="stroke-width:1.8"/>
<path d="M496.5,568 C497.5,567.5 499,568.5 499,570.5 L499,579 L496.5,579 Z" fill="#000"/>
<path class="t" d="M488,576.5 L493,580 L500,583 L506,585"/>
<!-- block top face / neck -->
<path class="t" d="M488,592 C492,595 496,596 505,596 M492,585 L494,590 M497,586 L500,592 M495,589 L498,591"/>
<!-- block front -->
<path class="t" style="stroke-width:1.3" d="M477,600.6 L490.1,607.8 L505.6,600.6"/>
<path class="t" d="M490.1,608.5 L490.1,624.5" stroke-dasharray="2 1"/>
<path class="t" d="M477,605 L482,608 M476,610 L481,613 M478,615 L484,618 M480,620 L486,623 M484,611 L487,613 M495,609 L500,606 M496,614 L503,610 M495,619 L504,614 M498,603 L503,600.5 M493,620.5 L496,619"/>
<path class="t" style="stroke-width:1.5" d="M490,624.5 L505.6,619 L506.5,621"/>
<!-- bottom loop -->
<path class="w" style="stroke-width:2.2" d="M488.7,628 L501.7,621.8 L506,620.8 L506.5,641 C506.8,646 508,648.5 509.6,648.9 C506,650.5 503.5,650.8 501.7,650.7 L494.3,648 L488.7,643.7 C487,642 485.8,640.5 485.7,638 L485.7,633.3 Z"/>
<path d="M500.5,623.5 L505.5,622.5 L506,641 L503.5,641 C503.5,634 502.5,628 500.5,623.5 Z" fill="#000"/>
<path class="t" style="stroke-width:1.5" d="M496.5,627.5 C499.5,630 501.5,634 501.8,638 C502,641 501,643 499.5,643.5 L497.5,643"/>
<path class="t" style="stroke-width:1.3" d="M495,628 L495,635 L497,636 M489,633.5 L493,632.5 L493.5,635.5 L490,637 M495,637.5 L499,642"/>
<!-- side lines -->
<path class="t" d="M512.8,624.5 L520.6,621.5"/>
</g>
<!-- dashed line from p11 to car -->
<path d="M349,607.6 L468,610" fill="none" stroke="#000" style="stroke-width:1.3;stroke-dasharray:7 5"/>
<path d="M322,607 L340,603.8 L346,603.5 L346,612 L340,611 Z" fill="#000"/>
<!-- dashed from p10 to car -->
<path d="M225.8,470.6 L261,573" fill="none" stroke="#000" style="stroke-width:1.2;stroke-dasharray:6 4.5"/>
<path d="M268,588 L255.5,565.5 L265,561.5 Z" fill="#000"/>
<!-- screw 12 axis -->
<path class="t" style="stroke-width:1.3" d="M478.1,646 L482.9,643.6"/>

<g id="screws">
<g transform="translate(376.5,455.2) rotate(-27.1)">
<path d="M5.6,-4.2 L43.6,-3.8 L46.6,-1.9 L46.6,1.9 L43.6,3.8 L5.6,4.2 Z" fill="#fff" stroke="#000" style="stroke-width:1.9;stroke-linejoin:round"/>
<path d="M41.6,-3.8 L41.6,3.8" stroke="#000" style="stroke-width:1.6"/>
<path d="M7.6,-3.8 L10.2,3.8 M9.9,-3.8 L12.5,3.8 M12.2,-3.8 L14.8,3.8 M14.5,-3.8 L17.1,3.8 M16.8,-3.8 L19.4,3.8 M19.1,-3.8 L21.7,3.8 M21.4,-3.8 L24.0,3.8 M23.7,-3.8 L26.3,3.8 M26.0,-3.8 L28.6,3.8 M28.3,-3.8 L30.9,3.8 M30.6,-3.8 L33.2,3.8 M32.9,-3.8 L35.5,3.8 M35.2,-3.8 L37.8,3.8 M37.5,-3.8 L40.1,3.8 " stroke="#000" style="stroke-width:1.1" fill="none"/>
</g>
<ellipse cx="376.5" cy="455.2" rx="9.2" ry="10.4" fill="#fff" stroke="#000" style="stroke-width:2.2"/>
<ellipse cx="377.5" cy="455.2" rx="6.6" ry="8.0" fill="none" stroke="#000" style="stroke-width:1"/>
<ellipse cx="377.5" cy="455.2" rx="8.7" ry="8.7" fill="none" stroke="#000" style="stroke-width:1"/>
<ellipse cx="373.4" cy="456.1" rx="6.3" ry="9.3" fill="#fff" stroke="#000" style="stroke-width:1.6"/>
<ellipse cx="372.9" cy="456.6" rx="3.1" ry="4.8" fill="#fff" stroke="#000" style="stroke-width:1.4"/>
<path d="M371.9,454.4 L373.9,459.0" stroke="#000" style="stroke-width:1.2"/>
<g transform="translate(533.2,415.5) rotate(-26.8)">
<path d="M6.2,-4.4 L45.6,-3.9 L48.6,-2.1 L48.6,2.1 L45.6,3.9 L6.2,4.4 Z" fill="#fff" stroke="#000" style="stroke-width:1.9;stroke-linejoin:round"/>
<path d="M43.6,-3.9 L43.6,3.9" stroke="#000" style="stroke-width:1.6"/>
<path d="M8.2,-3.9 L10.9,3.9 M10.5,-3.9 L13.2,3.9 M12.8,-3.9 L15.5,3.9 M15.1,-3.9 L17.8,3.9 M17.4,-3.9 L20.1,3.9 M19.7,-3.9 L22.4,3.9 M22.0,-3.9 L24.7,3.9 M24.3,-3.9 L27.0,3.9 M26.6,-3.9 L29.3,3.9 M28.9,-3.9 L31.6,3.9 M31.2,-3.9 L33.9,3.9 M33.5,-3.9 L36.2,3.9 M35.8,-3.9 L38.5,3.9 M38.1,-3.9 L40.8,3.9 M40.4,-3.9 L43.1,3.9 " stroke="#000" style="stroke-width:1.1" fill="none"/>
</g>
<ellipse cx="533.2" cy="415.5" rx="10.2" ry="10.5" fill="#fff" stroke="#000" style="stroke-width:2.2"/>
<ellipse cx="534.3" cy="415.5" rx="7.1" ry="8.0" fill="none" stroke="#000" style="stroke-width:1"/>
<ellipse cx="534.3" cy="415.5" rx="9.5" ry="8.8" fill="none" stroke="#000" style="stroke-width:1"/>
<ellipse cx="529.8" cy="416.4" rx="6.9" ry="9.4" fill="#fff" stroke="#000" style="stroke-width:1.6"/>
<ellipse cx="529.3" cy="416.9" rx="3.4" ry="4.8" fill="#fff" stroke="#000" style="stroke-width:1.4"/>
<path d="M528.2,414.7 L530.4,419.3" stroke="#000" style="stroke-width:1.2"/>
<g transform="translate(493.8,269.0) rotate(-27.1)">
<path d="M5.9,-4.0 L36.1,-3.5 L39.1,-1.7 L39.1,1.7 L36.1,3.5 L5.9,4.0 Z" fill="#fff" stroke="#000" style="stroke-width:1.9;stroke-linejoin:round"/>
<path d="M34.1,-3.5 L34.1,3.5" stroke="#000" style="stroke-width:1.6"/>
<path d="M7.9,-3.5 L10.4,3.5 M10.2,-3.5 L12.7,3.5 M12.5,-3.5 L15.0,3.5 M14.8,-3.5 L17.3,3.5 M17.1,-3.5 L19.6,3.5 M19.4,-3.5 L21.9,3.5 M21.7,-3.5 L24.2,3.5 M24.0,-3.5 L26.5,3.5 M26.3,-3.5 L28.8,3.5 M28.6,-3.5 L31.1,3.5 M30.9,-3.5 L33.4,3.5 " stroke="#000" style="stroke-width:1.1" fill="none"/>
</g>
<ellipse cx="493.8" cy="269.0" rx="9.8" ry="10.8" fill="#fff" stroke="#000" style="stroke-width:2.2"/>
<ellipse cx="494.9" cy="269.0" rx="6.9" ry="8.3" fill="none" stroke="#000" style="stroke-width:1"/>
<ellipse cx="494.9" cy="269.0" rx="9.1" ry="9.0" fill="none" stroke="#000" style="stroke-width:1"/>
<ellipse cx="490.6" cy="269.9" rx="6.7" ry="9.7" fill="#fff" stroke="#000" style="stroke-width:1.6"/>
<ellipse cx="490.1" cy="270.4" rx="3.2" ry="5.0" fill="#fff" stroke="#000" style="stroke-width:1.4"/>
<path d="M488.9,268.2 L491.1,272.9" stroke="#000" style="stroke-width:1.2"/>
<g transform="translate(629.5,326.5) rotate(-26.9)">
<path d="M5.8,-4.0 L33.4,-3.5 L36.4,-1.7 L36.4,1.7 L33.4,3.5 L5.8,4.0 Z" fill="#fff" stroke="#000" style="stroke-width:1.9;stroke-linejoin:round"/>
<path d="M31.4,-3.5 L31.4,3.5" stroke="#000" style="stroke-width:1.6"/>
<path d="M7.8,-3.5 L10.2,3.5 M10.1,-3.5 L12.5,3.5 M12.4,-3.5 L14.8,3.5 M14.7,-3.5 L17.1,3.5 M17.0,-3.5 L19.4,3.5 M19.3,-3.5 L21.7,3.5 M21.6,-3.5 L24.0,3.5 M23.9,-3.5 L26.3,3.5 M26.2,-3.5 L28.6,3.5 M28.5,-3.5 L30.9,3.5 " stroke="#000" style="stroke-width:1.1" fill="none"/>
</g>
<ellipse cx="629.5" cy="326.5" rx="9.5" ry="9.5" fill="#fff" stroke="#000" style="stroke-width:2.2"/>
<ellipse cx="630.5" cy="326.5" rx="6.7" ry="7.3" fill="none" stroke="#000" style="stroke-width:1"/>
<ellipse cx="630.5" cy="326.5" rx="8.9" ry="7.9" fill="none" stroke="#000" style="stroke-width:1"/>
<ellipse cx="626.4" cy="327.3" rx="6.5" ry="8.6" fill="#fff" stroke="#000" style="stroke-width:1.6"/>
<ellipse cx="625.9" cy="327.8" rx="3.1" ry="4.4" fill="#fff" stroke="#000" style="stroke-width:1.4"/>
<path d="M624.8,325.8 L626.9,330.0" stroke="#000" style="stroke-width:1.2"/>
<g transform="translate(438.5,669.0) rotate(-28.7)">
<path d="M8.0,-6.8 L39.7,-6.2 L42.7,-4.5 L42.7,4.5 L39.7,6.2 L8.0,6.8 Z" fill="#fff" stroke="#000" style="stroke-width:1.9;stroke-linejoin:round"/>
<path d="M37.7,-6.2 L37.7,6.2" stroke="#000" style="stroke-width:1.6"/>
<path d="M10.0,-6.2 L14.4,6.2 M13.2,-6.2 L17.6,6.2 M16.4,-6.2 L20.8,6.2 M19.6,-6.2 L23.9,6.2 M22.8,-6.2 L27.1,6.2 M26.0,-6.2 L30.3,6.2 M29.2,-6.2 L33.5,6.2 M32.4,-6.2 L36.8,6.2 M35.6,-6.2 L40.0,6.2 " stroke="#000" style="stroke-width:1.1" fill="none"/>
</g>
<ellipse cx="438.5" cy="669.0" rx="13.5" ry="15.0" fill="#fff" stroke="#000" style="stroke-width:2.2"/>
<ellipse cx="439.9" cy="669.0" rx="8.9" ry="11.5" fill="none" stroke="#000" style="stroke-width:1"/>
<ellipse cx="439.9" cy="669.0" rx="12.0" ry="12.5" fill="none" stroke="#000" style="stroke-width:1"/>
<ellipse cx="434.1" cy="670.3" rx="9.0" ry="13.1" fill="#fff" stroke="#000" style="stroke-width:1.6"/>
<ellipse cx="433.6" cy="670.8" rx="4.3" ry="6.7" fill="#fff" stroke="#000" style="stroke-width:1.4"/>
<path d="M432.0,667.9 L434.9,674.3" stroke="#000" style="stroke-width:1.2"/>
</g>
<g id="axes">
<path class="t" style="stroke-width:1.2" d="M532.6,248.3 L566,230.5"/>
<path d="M579,389 L633,359.5" fill="none" stroke="#000" style="stroke-width:1.2;stroke-dasharray:6 4"/>
<path d="M659,344 L689,327" fill="none" stroke="#000" style="stroke-width:1.2;stroke-dasharray:6 4"/>
<path d="M664,309 L700,289" fill="none" stroke="#000" style="stroke-width:1.2"/>
<path d="M700,289 L750,256" fill="none" stroke="#000" style="stroke-width:1.2;stroke-dasharray:7 4"/>
</g>



<!-- LABELS -->
<g class="lb">
<rect x="193.5" y="8.5" width="18" height="18"/><text x="203" y="21">10</text>
<rect x="309.5" y="8.5" width="18" height="18"/><text x="319" y="21">7</text>
<rect x="362.5" y="8.5" width="18" height="18"/><text x="372" y="21">9</text>
<rect x="427.5" y="8.5" width="18" height="18"/><text x="437" y="21">7</text>
<rect x="481.5" y="8.5" width="18" height="18"/><text x="491" y="21">4</text>
<rect x="531.5" y="8.5" width="18" height="18"/><text x="541" y="21">5</text>
<rect x="635.5" y="8.5" width="18" height="18"/><text x="645" y="21">4</text>
<rect x="688.5" y="8.5" width="18" height="18"/><text x="698" y="21">1</text>
<rect x="746.5" y="8.5" width="18" height="18"/><text x="756" y="21">3</text>
<rect x="807.5" y="8.5" width="18" height="18"/><text x="817" y="21">2</text>
<rect x="434.5" y="764.5" width="18" height="18"/><text x="444" y="777">12</text>
<rect x="496.5" y="764.5" width="18" height="18"/><text x="506" y="777">11</text>
<rect x="623.5" y="764.5" width="18" height="18"/><text x="633" y="777">8</text>
<rect x="684.5" y="764.5" width="18" height="18"/><text x="694" y="777">6</text>
<rect x="862.5" y="764.5" width="18" height="18"/><text x="872" y="777">13</text>
</g>
<rect x="526" y="3" width="27" height="27" fill="rgb(255,0,0)" fill-opacity="0.5"/>

<!-- BOTTOM BAR -->
<rect x="0" y="820" width="1000" height="100" fill="#646464"/>
<g font-family="Liberation Sans, sans-serif" font-size="41" fill="#fff">
<text x="221.8" y="889" textLength="168.2" lengthAdjust="spacingAndGlyphs">RENAULT</text>
<rect x="400.4" y="874.6" width="10" height="3.5"/>
<text x="420.3" y="889" textLength="225.3" lengthAdjust="spacingAndGlyphs">7700303592</text>
<text x="694.8" y="889" textLength="28.9" lengthAdjust="spacingAndGlyphs">N</text>
<rect x="734.5" y="874.6" width="10" height="3.5"/>
<text x="756" y="889" textLength="21" lengthAdjust="spacingAndGlyphs">5</text>
</g>
</svg>
</body></html>
